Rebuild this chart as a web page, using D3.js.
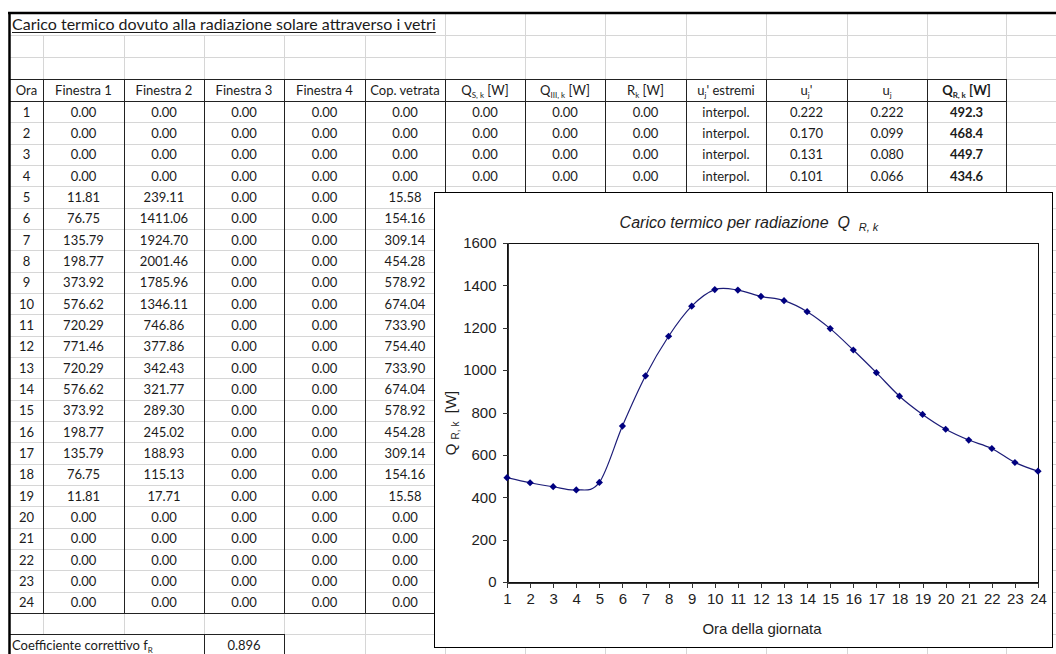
<!DOCTYPE html>
<html><head><meta charset="utf-8">
<script src="https://cdn.jsdelivr.net/npm/d3@7"></script>
<style>
html,body{margin:0;padding:0;background:#fff;}
svg{display:block;}
</style></head><body>
<script>
// Solar heat gain through glazing, hour by hour
const ore = [1,2,3,4,5,6,7,8,9,10,11,12,13,14,15,16,17,18,19,20,21,22,23,24];
const finestra1 = [0,0,0,0,11.81,76.75,135.79,198.77,373.92,576.62,720.29,771.46,720.29,576.62,373.92,198.77,135.79,76.75,11.81,0,0,0,0,0];
const finestra2 = [0,0,0,0,239.11,1411.06,1924.70,2001.46,1785.96,1346.11,746.86,377.86,342.43,321.77,289.30,245.02,188.93,115.13,17.71,0,0,0,0,0];
const finestra3 = [0,0,0,0,0,0,0,0,0,0,0,0,0,0,0,0,0,0,0,0,0,0,0,0];
const finestra4 = [0,0,0,0,0,0,0,0,0,0,0,0,0,0,0,0,0,0,0,0,0,0,0,0];
const copVetrata = [0,0,0,0,15.58,154.16,309.14,454.28,578.92,674.04,733.90,754.40,733.90,674.04,578.92,454.28,309.14,154.16,15.58,0,0,0,0,0];
// columns partly hidden below the chart: first hours only
const qSk = [0,0,0,0];
const qIIIk = [0,0,0,0];
const rk = [0,0,0,0];
const estremi = ["interpol.","interpol.","interpol.","interpol."];
const ujPrimo = [0.222,0.170,0.131,0.101];
const uj = [0.222,0.099,0.080,0.066];
// radiative heat load Q_R,k [W]
const qRk = [492.3,468.4,449.7,434.6,470,736,973,1160,1302,1380,1378,1348,1328,1276,1196,1095,988,877,791,721,670,630,564,523];
const fR = 0.896;
const yTicks = [0,200,400,600,800,1000,1200,1400,1600];

const W = 1056, H = 654;
const svg = d3.select("body").append("svg").attr("width", W).attr("height", H);
svg.append("rect").attr("width", W).attr("height", H).attr("fill", "#fff");

// ---- sheet layout ----
const colEdges = [10,43,124,204,284,365,445,525,605,686,766,847,927,1006,1086];
const rowH = 21.33;
const headTop = 79, dataTop = 101;
const rowEdges = [13,35,57,79,101];
for (let k = 1; k <= 26; k++) rowEdges.push(dataTop + k * rowH);
const dataBottom = dataTop + 24 * rowH;
const coefTop = dataBottom + rowH;
const cellFont = "Lato, 'Open Sans', sans-serif";
const ink = "#1b1b1b";

const grid = svg.append("g").attr("stroke", "#d6d6d6").attr("stroke-width", 1).attr("shape-rendering", "crispEdges");
rowEdges.slice(1).forEach(y => {
  grid.append("line").attr("x1", 10).attr("x2", W).attr("y1", Math.round(y) + 0.5).attr("y2", Math.round(y) + 0.5);
});
colEdges.slice(1).forEach(x => {
  const segs = [];
  // title text overflows the first columns
  segs.push([x >= 445 ? 13 : 35, coefTop]);
  if (x !== 43 && x !== 124) segs.push([coefTop, H]);
  segs.forEach(s => grid.append("line").attr("x1", x + 0.5).attr("x2", x + 0.5).attr("y1", s[0]).attr("y2", s[1]));
});

// table borders
const bord = svg.append("g").attr("stroke", "#222").attr("stroke-width", 1.2).attr("shape-rendering", "crispEdges");
[headTop, dataTop, dataBottom].forEach(y => {
  bord.append("line").attr("x1", 10).attr("x2", 1006).attr("y1", Math.round(y) + 0.5).attr("y2", Math.round(y) + 0.5);
});
colEdges.slice(1, 14).forEach(x => {
  bord.append("line").attr("x1", x + 0.5).attr("x2", x + 0.5).attr("y1", headTop).attr("y2", Math.round(dataBottom) + 1);
});
bord.append("line").attr("x1", 10).attr("x2", 284).attr("y1", Math.round(coefTop) + 0.5).attr("y2", Math.round(coefTop) + 0.5);
[204, 284].forEach(x => bord.append("line").attr("x1", x + 0.5).attr("x2", x + 0.5).attr("y1", Math.round(coefTop)).attr("y2", H));

// outer frame
svg.append("line").attr("x1", 8).attr("x2", W).attr("y1", 13).attr("y2", 13).attr("stroke", "#000").attr("stroke-width", 2.5);
svg.append("line").attr("x1", 9.5).attr("x2", 9.5).attr("y1", 12).attr("y2", H).attr("stroke", "#000").attr("stroke-width", 2.5);

// rich text helper: parts are [text, isSubscript]
function rich(sel, parts, subSize) {
  let prevSub = false;
  parts.forEach(([t, sub]) => {
    const ts = sel.append("tspan").text(t);
    if (sub && !prevSub) ts.attr("dy", 3).attr("font-size", subSize);
    if (!sub && prevSub) ts.attr("dy", -3);
    if (sub && prevSub) ts.attr("font-size", subSize);
    prevSub = sub;
  });
  return sel;
}

const txt = svg.append("g").attr("font-family", cellFont).attr("font-size", 13).attr("fill", ink);

// title
const title = txt.append("text").attr("x", 12).attr("y", 30).attr("font-size", 16)
  .text("Carico termico dovuto alla radiazione solare attraverso i vetri");
const tw = title.node().getComputedTextLength();
txt.append("line").attr("x1", 12).attr("x2", 12 + tw).attr("y1", 32.5).attr("y2", 32.5).attr("stroke", ink).attr("stroke-width", 1);

// header row
const headers = [
  [["Ora", false]], [["Finestra 1", false]], [["Finestra 2", false]], [["Finestra 3", false]],
  [["Finestra 4", false]], [["Cop. vetrata", false]],
  [["Q", false], ["S, k", true], [" [W]", false]],
  [["Q", false], ["III, k", true], [" [W]", false]],
  [["R", false], ["k", true], [" [W]", false]],
  [["u", false], ["j", true], ["' estremi", false]],
  [["u", false], ["j", true], ["'", false]],
  [["u", false], ["j", true]],
  [["Q", false], ["R, k", true], [" [W]", false]]
];
const cx = i => (colEdges[i] + colEdges[i + 1]) / 2;
headers.forEach((h, i) => {
  const t = txt.append("text").attr("x", cx(i)).attr("y", dataTop - 6).attr("text-anchor", "middle");
  if (i === 12) t.attr("font-weight", "bold");
  rich(t, h, 8);
});

// data rows
const fmt2 = d3.format(".2f"), fmt3 = d3.format(".3f"), fmt1 = d3.format(".1f");
ore.forEach((h, r) => {
  const yb = dataTop + (r + 1) * rowH - 5.5;
  const cells = [String(h), fmt2(finestra1[r]), fmt2(finestra2[r]), fmt2(finestra3[r]), fmt2(finestra4[r]), fmt2(copVetrata[r])];
  if (r < 4) {
    cells.push(fmt2(qSk[r]), fmt2(qIIIk[r]), fmt2(rk[r]), estremi[r], fmt3(ujPrimo[r]), fmt3(uj[r]), fmt1(qRk[r]));
  }
  cells.forEach((c, i) => {
    const t = txt.append("text").attr("x", cx(i)).attr("y", yb).attr("text-anchor", "middle").text(c);
    if (i === 12) t.attr("font-weight", "bold");
  });
});

// correction factor
const coefY = coefTop + rowH - 5.5;
rich(txt.append("text").attr("x", 12).attr("y", coefY), [["Coefficiente correttivo  f", false], ["R", true]], 8);
txt.append("text").attr("x", cx(3)).attr("y", coefY).attr("text-anchor", "middle").text(fR.toFixed(3));

// ---- chart ----
const chart = svg.append("g").attr("font-family", "'Liberation Sans', Arial, sans-serif");
chart.append("rect").attr("x", 434.5).attr("y", 192.5).attr("width", 618).attr("height", 455)
  .attr("fill", "#fff").attr("stroke", "#000").attr("stroke-width", 1);

const x = d3.scaleLinear().domain([1, 24]).range([507, 1038]);
const y = d3.scaleLinear().domain([0, 1600]).range([582, 243]);

chart.append("rect").attr("x", x(1) + 0.5).attr("y", y(1600) + 0.5)
  .attr("width", x(24) - x(1)).attr("height", y(0) - y(1600))
  .attr("fill", "#fff").attr("stroke", "#111").attr("stroke-width", 1).attr("shape-rendering", "crispEdges");

const yAxis = chart.append("g").attr("transform", `translate(${x(1) + 0.5},0)`)
  .call(d3.axisLeft(y).tickValues(yTicks).tickSize(5).tickPadding(6).tickFormat(d3.format("d")));
const xAxis = chart.append("g").attr("transform", `translate(0,${y(0) + 0.5})`)
  .call(d3.axisBottom(x).tickValues(ore).tickSize(5).tickPadding(6).tickFormat(d3.format("d")));
[yAxis, xAxis].forEach(a => {
  a.select(".domain").attr("stroke", "#333").attr("shape-rendering", "crispEdges");
  a.selectAll(".tick line").attr("stroke", "#333").attr("shape-rendering", "crispEdges");
  a.selectAll(".tick text").attr("font-family", "'Liberation Sans', Arial, sans-serif")
    .attr("font-size", 15).attr("fill", "#1e1e1e");
});

const pts = ore.map((h, i) => ({ h, v: qRk[i] }));
chart.append("path").datum(pts)
  .attr("d", d3.line().x(d => x(d.h)).y(d => y(d.v)).curve(d3.curveCatmullRom.alpha(0)))
  .attr("fill", "none").attr("stroke", "#1c1c78").attr("stroke-width", 1.2);

const r = 3.6;
chart.append("g").selectAll("path").data(pts).join("path")
  .attr("transform", d => `translate(${x(d.h)},${y(d.v)})`)
  .attr("d", `M0,${-r}L${r},0L0,${r}L${-r},0Z`)
  .attr("fill", "#000080");

// chart title
rich(chart.append("text").attr("x", 749).attr("y", 228).attr("text-anchor", "middle")
  .attr("font-size", 16).attr("font-style", "italic").attr("fill", "#1e1e1e").attr("xml:space", "preserve"),
  [["Carico termico per radiazione  Q  ", false], ["R, k", true]], 11);

// axis titles
rich(chart.append("text").attr("transform", "translate(456,423) rotate(-90)").attr("text-anchor", "middle")
  .attr("font-size", 15).attr("fill", "#1e1e1e").attr("xml:space", "preserve"),
  [["Q ", false], ["R, k", true], ["  [W]", false]], 10);
chart.append("text").attr("x", 762).attr("y", 634).attr("text-anchor", "middle")
  .attr("font-size", 15).attr("fill", "#1e1e1e").text("Ora della giornata");
</script>
</body></html>
